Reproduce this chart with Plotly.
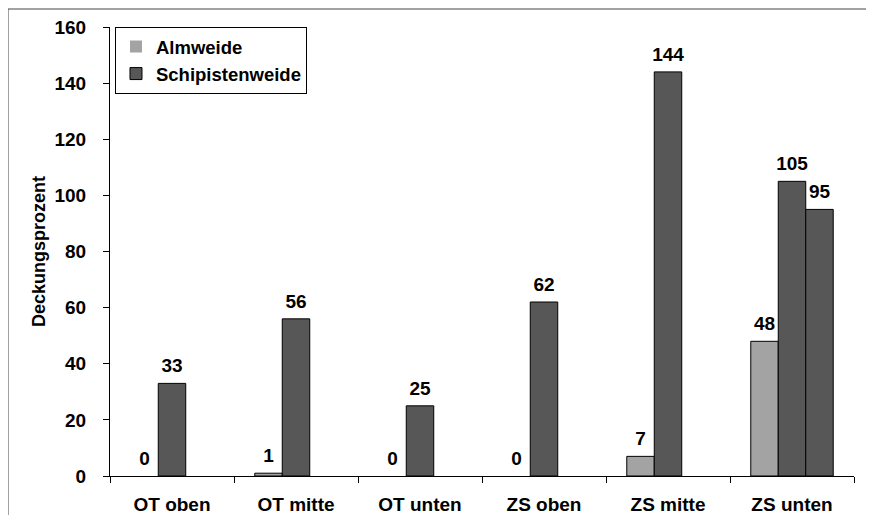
import plotly.graph_objects as go

categories = ["OT oben", "OT mitte", "OT unten", "ZS oben", "ZS mitte", "ZS unten"]
almweide = [0, 1, 0, 0, 7, 48]
schipistenweide = [33, 56, 25, 62, 144, 105]
schipistenweide_2 = [None, None, None, None, None, 95]
y_ticks = [0, 20, 40, 60, 80, 100, 120, 140, 160]

FONT = "Liberation Sans, Arial, sans-serif"
LIGHT = "#A3A3A3"
DARK = "#575757"

series = [
    ("Almweide", almweide, LIGHT, True),
    ("Schipistenweide", schipistenweide, DARK, True),
    ("Schipistenweide (2)", schipistenweide_2, DARK, False),
]

fig = go.Figure()
for name, vals, col, show in series:
    fig.add_trace(go.Bar(
        x=categories, y=vals, name=name, showlegend=show,
        marker=dict(color=col,
                    line=dict(color="black",
                              width=[0 if (v is None or v == 0) else 1 for v in vals])),
        hoverinfo="skip",
    ))

# value labels (grouped scatter text aligned with the bars)
for name, vals, col, show in series:
    fig.add_trace(go.Scatter(
        x=categories, y=vals, mode="markers+text", showlegend=False,
        marker=dict(size=8.5, opacity=0, color=col),
        text=[None if v is None else f"{v:.0f}" for v in vals],
        textposition="top center",
        textfont=dict(family=FONT, size=19, color="black", weight="bold"),
        cliponaxis=False, hoverinfo="skip",
    ))

# page body has an 8px margin, so the figure is drawn 8px in from the window edge
fig.update_layout(
    width=866, height=507,
    margin=dict(l=102, r=20, t=19, b=39, autoexpand=False),
    paper_bgcolor="white", plot_bgcolor="white",
    barmode="group", bargap=0.335, bargroupgap=0,
    scattermode="group", scattergap=0.335,
    font=dict(family=FONT, size=19, color="black", weight="bold"),
    showlegend=True,
    legend=dict(
        x=0.0067, y=1.0, xanchor="left", yanchor="top",
        bordercolor="black", borderwidth=1, bgcolor="white",
        font=dict(family=FONT, size=18.5, color="black", weight="bold"),
        tracegroupgap=0,
    ),
    xaxis=dict(
        showline=True, linecolor="black", linewidth=1, automargin=False,
        ticks="outside", tickson="boundaries", ticklen=6, tickcolor="black",
        ticklabelstandoff=11, showgrid=False,
        tickfont=dict(family=FONT, size=19, color="black", weight="bold"),
    ),
    yaxis=dict(
        range=[0, 160], tickvals=y_ticks, automargin=False,
        showline=True, linecolor="black", linewidth=1,
        ticks="outside", ticklen=6, tickcolor="black",
        ticklabelstandoff=13, showgrid=False, zeroline=False,
        tickfont=dict(family=FONT, size=19, color="black", weight="bold"),
        title=dict(text="Deckungsprozent", standoff=4,
                   font=dict(family=FONT, size=18, color="black", weight="bold")),
    ),
    shapes=[
        dict(type="line", xref="paper", yref="paper",
             x0=-102/744, x1=-102/744, y0=1 + 18/449, y1=-1,
             line=dict(color="#444444", width=1)),
        dict(type="line", xref="paper", yref="paper",
             x0=-102/744, x1=2, y0=1 + 18/449, y1=1 + 18/449,
             line=dict(color="#444444", width=1)),
    ],
)

fig.write_html("out.html")
